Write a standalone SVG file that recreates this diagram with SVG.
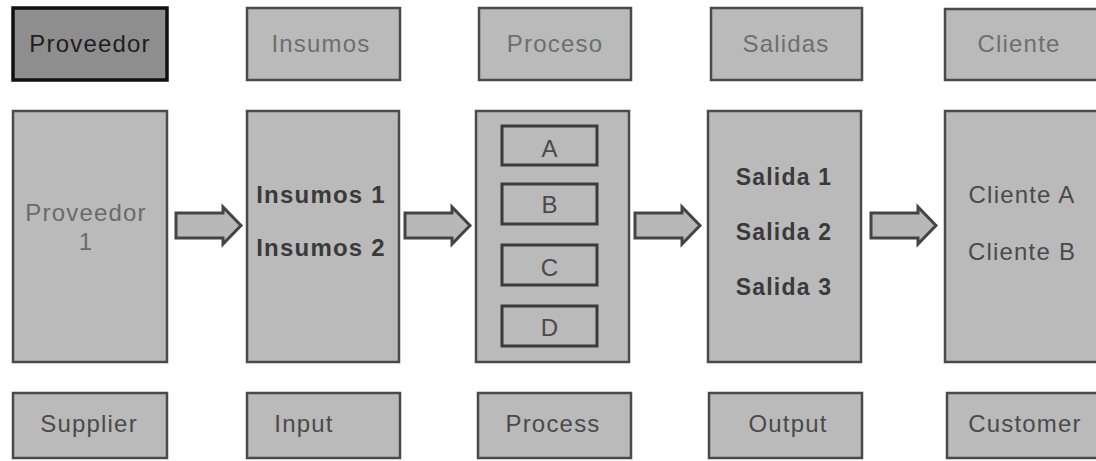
<svg xmlns="http://www.w3.org/2000/svg" width="1096" height="461" viewBox="0 0 1096 461">
  <style>
    .box { fill: #bababa; stroke: #4a4a4a; stroke-width: 2.5; }
    .box-dark { fill: #8e8e8e; stroke: #111111; stroke-width: 3.5; }
    .sub { fill: #bababa; stroke: #3a3a3a; stroke-width: 3; }
    .arrow { fill: #b8b8b8; stroke: #444444; stroke-width: 3; stroke-linejoin: miter; }
    text { font-family: "Liberation Sans", Arial, sans-serif; font-size: 24px; text-anchor: middle; letter-spacing: 1.2px; }
    .head { fill: #6e6e6e; }
    .head-dark { fill: #1e1e1e; }
    .foot { fill: #4a4a4a; }
    .light { fill: #6a6a6a; }
    .bold { font-weight: bold; fill: #3a3a3a; }
    .item { fill: #4a4a4a; }
  </style>

  <!-- Column 1: supplier -->
  <g id="proveedor-header">
    <rect class="box-dark" x="13" y="8" width="154" height="72"/>
    <text class="head-dark" x="90" y="52">Proveedor</text>
  </g>
  <g id="proveedor-body">
    <rect class="box" x="13" y="111" width="154" height="251"/>
    <text class="light" x="86" y="221">Proveedor</text>
    <text class="light" x="86" y="250">1</text>
  </g>
  <g id="supplier-footer">
    <rect class="box" x="13" y="393" width="154" height="65"/>
    <text class="foot" x="89" y="432">Supplier</text>
  </g>

  <!-- Column 2: inputs -->
  <g id="insumos-header">
    <rect class="box" x="247" y="8" width="153" height="72"/>
    <text class="head" x="321" y="52">Insumos</text>
  </g>
  <g id="insumos-body">
    <rect class="box" x="247" y="111" width="152" height="251"/>
    <text class="bold" x="321" y="203">Insumos 1</text>
    <text class="bold" x="321" y="256">Insumos 2</text>
  </g>
  <g id="input-footer">
    <rect class="box" x="247" y="393" width="153" height="65"/>
    <text class="foot" x="304" y="432">Input</text>
  </g>

  <!-- Column 3: process -->
  <g id="proceso-header">
    <rect class="box" x="479" y="8" width="152" height="72"/>
    <text class="head" x="555" y="52">Proceso</text>
  </g>
  <g id="proceso-body">
    <rect class="box" x="476" y="111" width="153" height="251"/>
    <rect class="sub" x="502" y="126" width="95" height="39"/>
    <text class="item" x="550" y="157">A</text>
    <rect class="sub" x="502" y="184" width="95" height="40"/>
    <text class="item" x="550" y="213">B</text>
    <rect class="sub" x="502" y="245" width="95" height="40"/>
    <text class="item" x="550" y="276">C</text>
    <rect class="sub" x="502" y="306" width="95" height="40"/>
    <text class="item" x="550" y="336">D</text>
  </g>
  <g id="process-footer">
    <rect class="box" x="478" y="393" width="153" height="65"/>
    <text class="foot" x="553" y="432">Process</text>
  </g>

  <!-- Column 4: outputs -->
  <g id="salidas-header">
    <rect class="box" x="711" y="8" width="151" height="72"/>
    <text class="head" x="786" y="52">Salidas</text>
  </g>
  <g id="salidas-body">
    <rect class="box" x="708" y="111" width="153" height="251"/>
    <text class="bold" x="784" y="185" style="font-size:23px">Salida 1</text>
    <text class="bold" x="784" y="240" style="font-size:23px">Salida 2</text>
    <text class="bold" x="784" y="295" style="font-size:23px">Salida 3</text>
  </g>
  <g id="output-footer">
    <rect class="box" x="709" y="393" width="153" height="65"/>
    <text class="foot" x="788" y="432">Output</text>
  </g>

  <!-- Column 5: customer -->
  <g id="cliente-header">
    <rect class="box" x="945" y="9" width="160" height="71"/>
    <text class="head" x="1019" y="52">Cliente</text>
  </g>
  <g id="cliente-body">
    <rect class="box" x="945" y="111" width="160" height="251"/>
    <text class="item" x="1022" y="203">Cliente A</text>
    <text class="item" x="1022" y="260">Cliente B</text>
  </g>
  <g id="customer-footer">
    <rect class="box" x="947" y="393" width="160" height="65"/>
    <text class="foot" x="1025" y="432">Customer</text>
  </g>

  <!-- Block arrows between stages -->
  <g id="connectors">
    <path class="arrow" d="M176,213 H223 V207 L241,225.5 L223,244 V238 H176 Z"/>
    <path class="arrow" d="M405,213 H452 V207 L470,225.5 L452,244 V238 H405 Z"/>
    <path class="arrow" d="M635,213 H682 V207 L700,225.5 L682,244 V238 H635 Z"/>
    <path class="arrow" d="M871,213 H918 V207 L936,225.5 L918,244 V238 H871 Z"/>
  </g>
</svg>
